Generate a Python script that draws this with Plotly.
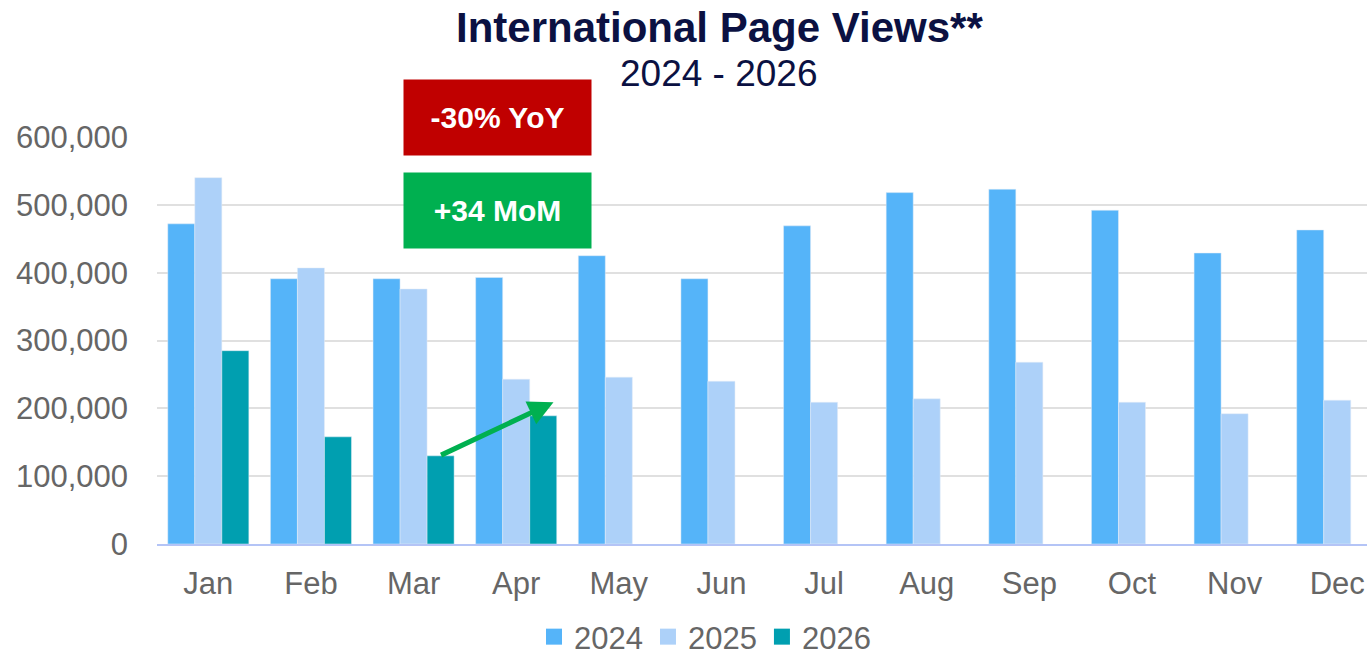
import plotly.graph_objects as go

months = ["Jan", "Feb", "Mar", "Apr", "May", "Jun", "Jul", "Aug", "Sep", "Oct", "Nov", "Dec"]
views_2024 = [472000, 391000, 391000, 393000, 425000, 391000, 469000, 518000, 523000, 492000, 429000, 463000]
views_2025 = [540000, 407000, 376000, 243000, 246000, 240000, 209000, 214000, 268000, 209000, 192000, 212000]
views_2026 = [285000, 158000, 130000, 189000]
y_ticks = [0, 100000, 200000, 300000, 400000, 500000, 600000]

colors = {"2024": "#55B4F9", "2025": "#ADD1F9", "2026": "#009FB0"}
FONT = "Liberation Sans, Arial, sans-serif"
GRAY = "#666666"
NAVY = "#0B1142"

fig = go.Figure()
series = [("2024", months, views_2024), ("2025", months, views_2025),
          ("2026", months[:len(views_2026)], views_2026)]
for name, xs, ys in series:
    fig.add_trace(go.Bar(name=name, x=xs, y=ys, marker_color=colors[name], showlegend=False))
# legend entries with larger square keys
for name, xs, ys in series:
    fig.add_trace(go.Scatter(name=name, x=[None], y=[None], mode="markers",
                             marker=dict(symbol="square", size=16, color=colors[name]),
                             showlegend=True))

L, R, T, B = 157, 0, 137, 112
W, H = 1367, 656
pw, ph = W - L - R, H - T - B

def px_x(px):
    return (px - L) / pw

def px_y(py):
    return 1 - (py - T) / ph

bargap = 0.21
bw = (1 - bargap) / 3
off3 = bw  # center of third bar relative to category center
ax_x = 2 + off3 - 0.01
ax_y = views_2026[2]
hd_x = 3 + off3 + 0.1
hd_y = views_2026[3] + 20000

annotations = [
    dict(text="<b>International Page Views**</b>", xref="paper", yref="paper",
         x=px_x(719), y=px_y(27), xanchor="center", yanchor="middle", showarrow=False,
         font=dict(family=FONT, size=42, color=NAVY)),
    dict(text="2024 - 2026", xref="paper", yref="paper",
         x=px_x(719), y=px_y(73), xanchor="center", yanchor="middle", showarrow=False,
         font=dict(family=FONT, size=37, color=NAVY)),
    dict(text="<b>-30% YoY</b>", xref="paper", yref="paper",
         x=px_x(497.5), y=px_y(117.5), xanchor="center", yanchor="middle", showarrow=False,
         width=187, height=75, bgcolor="#C00000", borderpad=0,
         font=dict(family=FONT, size=30, color="white")),
    dict(text="<b>+34 MoM</b>", xref="paper", yref="paper",
         x=px_x(497.5), y=px_y(210), xanchor="center", yanchor="middle", showarrow=False,
         width=187, height=75, bgcolor="#00B050", borderpad=0,
         font=dict(family=FONT, size=30, color="white")),
    dict(text="", x=hd_x, y=hd_y, ax=ax_x, ay=ax_y, xref="x", yref="y", axref="x", ayref="y",
         showarrow=True, arrowhead=2, arrowsize=1.0, arrowwidth=5, arrowcolor="#00B050",
         standoff=0, startstandoff=0),
]

fig.update_layout(
    width=W, height=H,
    margin=dict(l=L, r=R, t=T, b=B, autoexpand=False),
    paper_bgcolor="white", plot_bgcolor="white",
    barmode="group", bargap=bargap, bargroupgap=0,
    font=dict(family=FONT, color=GRAY, size=31),
    showlegend=True,
    legend=dict(orientation="h", x=px_x(705), y=px_y(637), xanchor="center", yanchor="middle",
                font=dict(family=FONT, size=31, color=GRAY),
                traceorder="normal", itemwidth=30, bgcolor="rgba(0,0,0,0)"),
    annotations=annotations,
)
fig.update_xaxes(
    type="category", range=[-0.5, 11.29], showgrid=False, automargin=False,
    showline=True, linecolor="#B4C4F6", linewidth=2,
    ticks="", tickfont=dict(family=FONT, size=31, color=GRAY), ticklabelstandoff=11,
)
fig.update_yaxes(
    range=[0, 600000], tickvals=y_ticks, ticktext=[f"{v:,}" for v in y_ticks],
    showgrid=True, gridcolor="#E0E0E0", gridwidth=2, zeroline=False, automargin=False,
    showline=False, ticks="", tickfont=dict(family=FONT, size=31, color=GRAY),
    ticklabelstandoff=28,
)

fig.write_html("out.html", config={"displayModeBar": False},
               post_script="document.body.style.margin='0';document.body.style.overflow='hidden';")
